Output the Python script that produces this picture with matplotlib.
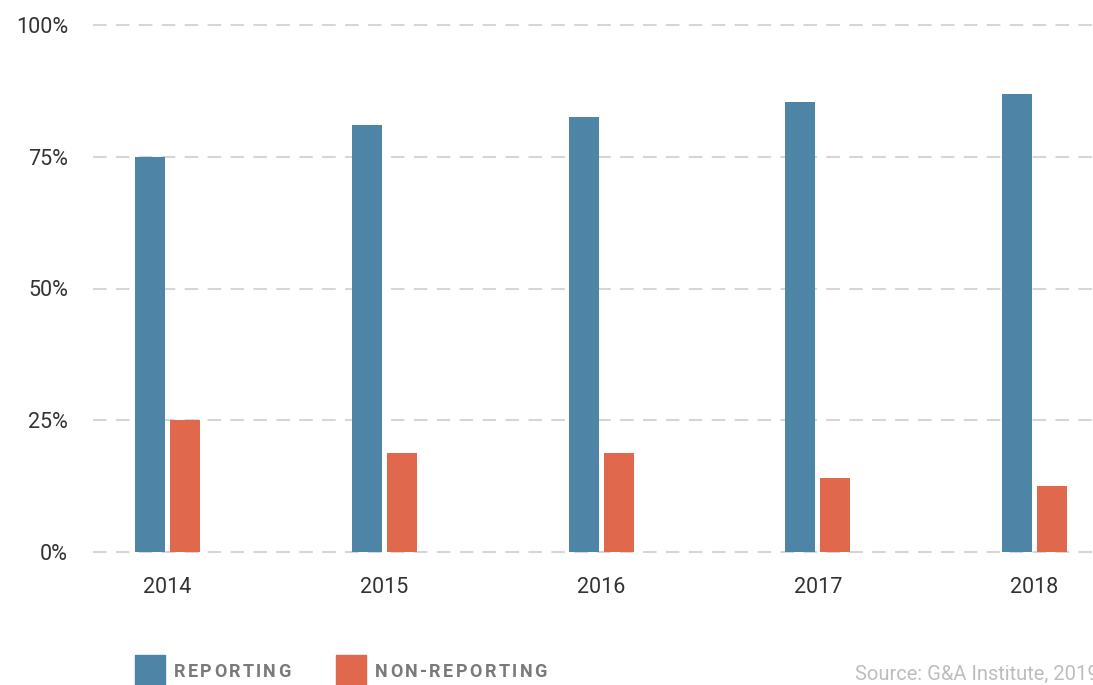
import matplotlib
matplotlib.use("Agg")
import matplotlib.pyplot as plt
import numpy as np

years = ["2014", "2015", "2016", "2017", "2018"]
reporting = [75, 81, 82.5, 85.3, 87]
non_reporting = [25, 18.7, 18.7, 14.1, 12.6]
yticks = [0, 25, 50, 75, 100]
ytick_labels = ["0%", "25%", "50%", "75%", "100%"]
legend_labels = ["REPORTING", "NON-REPORTING"]
source = "Source: G&A Institute, 2019"

BLUE = "#4E84A5"
ORANGE = "#E0694D"
plt.rcParams['font.family'] = ['Roboto', 'DejaVu Sans']

W, H = 1093, 685
fig = plt.figure(figsize=(W/100, H/100), dpi=100)
ax = fig.add_axes([93/W, 1-552/H, 1-93/W, (552-25)/H])

x = np.arange(len(years))
bw = 30/216.75
off = 17.5/216.75
ax.bar(x-off, reporting, width=bw, color=BLUE, zorder=3)
ax.bar(x+off, non_reporting, width=bw, color=ORANGE, zorder=3)
ax.set_xlim(-74.5/216.75, (1093-167.5)/216.75)
ax.set_ylim(0, 100)
for t in yticks:
    ax.axhline(t, color="#d6d6d6", lw=1.5, ls=(0, (6.5, 4.5)), zorder=1, clip_on=False)
for s in ax.spines.values():
    s.set_visible(False)
ax.set_yticks(yticks)
ax.set_yticklabels(ytick_labels)
ax.set_xticks(x)
ax.set_xticklabels(years)
ax.tick_params(axis='y', length=0, pad=18, labelsize=15.5, labelcolor="#333333")
ax.tick_params(axis='x', length=0, pad=18, labelsize=15.5, labelcolor="#333333")

# legend
def tracked(fig, xpx, ypx, text, size, color, weight, track):
    r = fig.canvas.get_renderer()
    cx = xpx
    for ch in text:
        t = fig.text(cx/W, 1-ypx/H, ch, fontsize=size, color=color, fontweight=weight,
                     va='center', ha='left')
        wpx = t.get_window_extent(renderer=r).width
        cx += wpx + track

from matplotlib.patches import Rectangle
fig.patches.append(Rectangle((135/W, 1-685/H), 30/W, 30/H, transform=fig.transFigure, color=BLUE))
fig.patches.append(Rectangle((336/W, 1-685/H), 30/W, 30/H, transform=fig.transFigure, color=ORANGE))
tracked(fig, 174, 672, legend_labels[0], 13, "#7a7a7a", "bold", 2.3)
tracked(fig, 375, 672, legend_labels[1], 13, "#7a7a7a", "bold", 2.4)
fig.text(855/W, 1-674/H, source, fontsize=14.5, color="#bdbdbd", va='center', ha='left')

fig.savefig("out.png", dpi=100)
